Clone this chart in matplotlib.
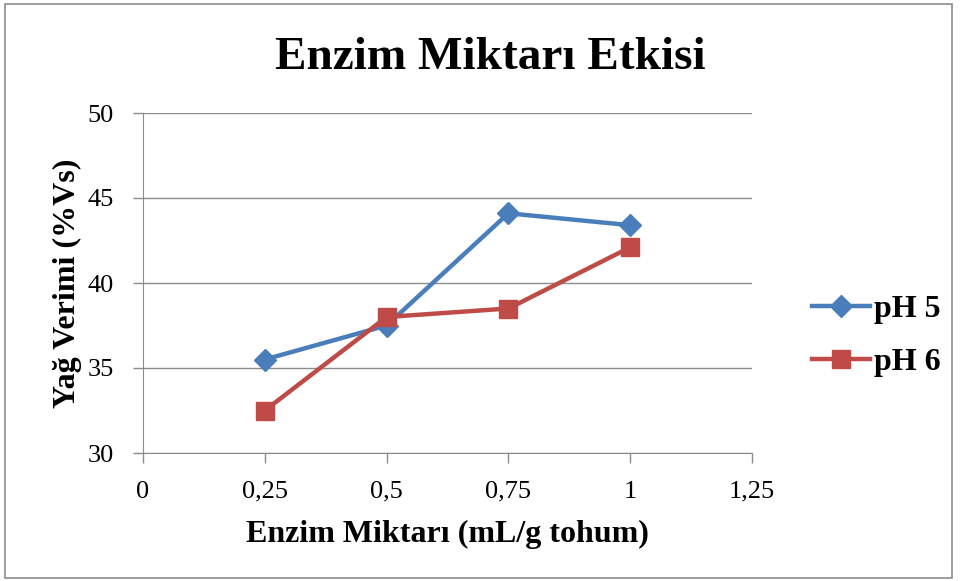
import matplotlib
matplotlib.use("Agg")
import matplotlib.pyplot as plt
from matplotlib.patches import Rectangle

x_vals = [0.25, 0.5, 0.75, 1.0]
ph5 = [35.5, 37.5, 44.1, 43.4]
ph6 = [32.5, 38.0, 38.5, 42.1]
x_ticks = [0, 0.25, 0.5, 0.75, 1.0, 1.25]
x_tick_labels = ["0", "0,25", "0,5", "0,75", "1", "1,25"]
y_ticks = [30, 35, 40, 45, 50]

plt.rcParams['font.family'] = ['Liberation Serif', 'DejaVu Serif']

fig = plt.figure(figsize=(9.6, 5.81), dpi=100)
fig.patches.append(Rectangle((5/960, 3/581), 947/960, 574/581, transform=fig.transFigure,
                             fill=False, edgecolor='#8c8c8c', linewidth=1.2))
ax = fig.add_axes([143/960, 1-453/581, (752-143)/960, (453-113)/581])

ax.plot(x_vals, ph5, color='#4a7ebb', linewidth=3.2, marker='D', markersize=11,
        label='pH 5', zorder=3)
ax.plot(x_vals, ph6, color='#be4b48', linewidth=3.2, marker='s', markersize=13,
        label='pH 6', zorder=3)

ax.set_xlim(0, 1.25)
ax.set_ylim(30, 50)
ax.set_xticks(x_ticks)
ax.set_xticklabels(x_tick_labels)
ax.set_yticks(y_ticks)
ax.yaxis.grid(True, color='#8c8c8c', linewidth=1)
ax.set_axisbelow(True)
for s in ['top', 'right']:
    ax.spines[s].set_visible(False)
for s in ['left', 'bottom']:
    ax.spines[s].set_color('#8c8c8c')
ax.tick_params(axis='both', colors='#8c8c8c', labelcolor='black', labelsize=19, length=7, width=1)
ax.tick_params(axis='x', pad=13)
ax.tick_params(axis='y', pad=14)

ax.set_xlabel('Enzim Miktarı (mL/g tohum)', fontsize=23, fontweight='bold', labelpad=12)
ax.set_ylabel('Yağ Verimi (%Vs)', fontsize=23, fontweight='bold', labelpad=4)
fig.text(490/960, 1-58/581, 'Enzim Miktarı Etkisi', fontsize=34, fontweight='bold',
         ha='center', va='center')

leg = ax.legend(loc='center left', bbox_to_anchor=((812-143)/609, (453-336)/340),
                frameon=False, prop={'size': 23, 'weight': 'bold'}, handlelength=1.8,
                handletextpad=0.15, labelspacing=0.75, borderaxespad=0, borderpad=0)

fig.savefig('out.png', dpi=100)
